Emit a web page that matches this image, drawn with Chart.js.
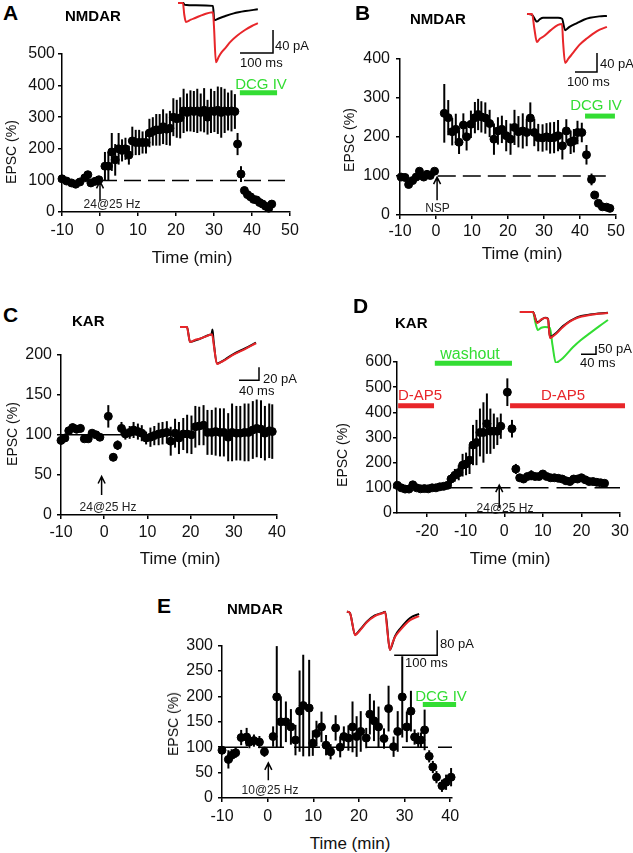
<!DOCTYPE html>
<html>
<head>
<meta charset="utf-8">
<title>EPSC time courses</title>
<script src="https://cdn.jsdelivr.net/npm/chart.js@4.4.1/dist/chart.umd.min.js"></script>
<style>
  body { margin: 0; background: #fff; }
  #fig { position: relative; width: 633px; height: 853px; overflow: hidden; font-family: "Liberation Sans", Arial, sans-serif; color: #111; }
  #fig canvas { position: absolute; }
  .lb { position: absolute; white-space: nowrap; line-height: 1; }
  .c { transform: translate(-50%, -50%); }
  .v { transform: translate(-50%, -50%) rotate(-90deg); }
</style>
</head>
<body>
<div id="fig"></div>
<script>
// ---- A: NMDAR, 24@25 Hz ----
const tA = [-10,-8.8,-7.5,-6.4,-5.3,-4.0,-3.2,-2.4,-1.3,-0.3,
  1.3,2.2,3.1,4.0,4.9,5.8,6.7,7.6,8.5,9.4,10.3,11.2,12.1,13.0,13.9,14.8,15.7,16.6,17.5,18.4,
  19.3,20.2,21.1,22.0,22.9,23.8,24.7,25.6,26.5,27.4,28.3,29.2,30.1,31.0,31.9,32.8,33.7,34.6,35.5,
  36.2,37.1,38.0,38.8,39.6,40.4,41.2,42.0,42.8,43.6,44.4,45.2];
const yA = [105,98,92,88,95,108,118,92,97,102,
  145,145,190,165,200,195,200,180,225,220,220,220,220,250,255,260,260,270,262,265,
  300,295,298,320,315,320,318,320,315,322,300,320,318,322,315,320,318,320,318,
  215,120,68,55,48,40,38,30,25,18,12,25];
const eA = [5,5,5,5,5,6,8,6,5,5,
  45,45,60,50,50,35,35,30,45,40,40,35,35,45,45,50,50,55,50,55,
  60,60,65,70,60,65,65,70,60,70,55,70,65,75,80,70,60,65,55,
  35,25,12,10,10,10,8,8,8,6,6,8];

// ---- B: NMDAR, NSP ----
const tB = [-9.7,-8.6,-7.6,-6.5,-5.5,-4.6,-3.4,-2.5,-1.6,-0.4,
  2.3,3.4,4.5,5.5,6.4,7.6,8.5,9.7,10.8,11.7,12.6,13.7,14.9,16.1,17.2,18.3,19.5,20.7,21.8,22.9,
  24.1,25.2,26.2,27.3,28.4,29.6,30.7,31.7,32.8,33.9,35.1,36.2,37.4,38.3,39.3,40.5,
  41.8,43.2,44.1,45.1,46.2,47.4,48.3];
const yB = [97,96,78,88,97,112,97,104,101,112,
  260,249,213,219,186,230,200,232,249,257,251,248,234,194,215,219,203,194,224,213,
  215,211,248,211,198,197,200,197,198,203,177,215,186,190,211,211,
  154,91,51,30,21,20,17];
const eB = [5,5,6,5,5,6,5,5,5,6,
  75,45,35,40,30,30,35,35,40,40,40,40,35,40,35,35,40,40,45,40,
  45,35,40,35,35,35,35,40,40,40,35,30,30,30,30,25,
  25,15,6,5,4,4,4];

// ---- C: KAR, 24@25 Hz ----
const tC = [-10,-9.1,-8.2,-7.3,-6.4,-5.5,-4.6,-3.7,-2.8,-1.9,-1.0,
  0.95,2.1,3.1,4.0,4.9,5.9,6.8,7.8,8.7,9.7,10.7,11.6,12.6,13.5,14.5,15.4,16.4,17.3,18.3,19.2,
  20.2,21.1,22.0,23.0,23.9,24.9,25.8,26.8,27.7,28.7,29.6,30.6,31.5,32.5,33.4,34.4,35.3,36.3,37.2,38.2,38.9];
const yC = [93,96,105,109,107,108,95,95,102,100,97,
  123,72,87,108,101,103,106,104,102,96,97,99,101,102,103,92,102,96,101,101,
  100,110,111,112,103,103,104,103,103,97,103,102,102,103,103,106,108,107,102,105,104];
const eC = [5,5,5,5,5,5,4,4,4,4,4,
  14,5,6,8,7,8,10,10,10,8,12,12,14,14,14,18,18,20,20,24,
  24,26,24,25,28,28,30,30,30,30,36,34,34,36,36,36,36,36,34,34,34];

// ---- D: KAR, D-AP5 washout ----
const tD = [-27.7,-26.7,-25.7,-24.7,-23.7,-22.7,-21.7,-20.7,-19.7,-18.7,-17.7,-16.7,-15.7,-14.7,
  -13.8,-12.8,-11.8,-10.8,-9.9,-9.0,-8.1,-7.2,-6.3,-5.4,-4.5,-3.6,-2.7,-1.8,-0.9,
  0.8,2.0,3.0,4,5,6,7,8,9,10,11,12,13,14,15,16,17,18,19,20,21,22,23,24,25,26];
const yD = [110,100,95,95,112,100,96,97,96,100,100,104,106,110,
  135,150,160,190,195,210,270,280,320,320,355,325,325,325,345,
  480,335,175,140,135,145,150,145,145,155,145,140,140,138,135,128,125,135,135,140,132,125,125,122,120,118];
const eD = [6,5,5,5,6,5,5,5,5,5,5,6,8,12,
  20,25,30,45,45,55,80,90,95,120,120,90,70,55,50,
  55,35,20,15,10,10,20,10,10,8,8,8,8,8,8,8,8,8,8,8,8,8,8,8,8,8];

// ---- E: NMDAR, 10@25 Hz ----
const tE = [-10,-8.6,-7.9,-7.0,-5.8,-4.6,-4.0,-3.0,-1.8,-0.7,
  1.2,2.0,2.9,4.0,5.1,6.1,7.0,7.8,9.1,9.9,10.7,11.8,12.8,13.8,14.9,15.9,16.7,17.7,18.6,19.5,
  20.4,21.6,22.4,23.3,24.3,25.5,26.5,27.6,28.5,29.5,30.5,31.4,32.2,33.0,33.6,34.4,35.4,36.2,37.0,38.2,39.1,40.2];
const yE = [94,76,84,89,119,120,110,113,110,91,
  121,199,150,150,140,114,171,182,177,108,127,140,104,91,138,100,121,118,140,121,
  131,118,165,152,140,117,176,101,131,199,140,171,120,114,114,134,82,61,41,24,31,41];
const eE = [8,18,12,10,15,18,12,12,12,10,
  20,100,50,40,35,30,80,100,95,25,25,30,20,15,25,20,20,25,50,40,
  40,20,40,40,40,20,45,20,40,80,30,40,15,15,15,40,12,12,12,12,15,18];

// drug applications [start, end, level] and 100 % reference lines [start, end]
const dcgA = [36.8, 46.6, 377], dcgB = [41.4, 49.7, 253], dcgE = [34, 41.3, 184];
const washD = [-18, 2, 595], ap5D1 = [-27.5, -18.2, 426], ap5D2 = [1.5, 31.3, 426];
const refA = [0, 50], refB = [0.5, 48.5], refC = [-10, 10], refD = [-16, 30], refE = [-10, 40.4];

// example traces (ms, pA)
const aRedMs = [6,21,25,30,45,58,75,88,112,115,121,130,139,150,164,185,209,230,248];
const aRedPa = [0,0,-20,-33,-29,-26,-22,-19,-16,-40,-103,-93,-85,-78,-68,-57,-47,-40,-35];
const aBlkMs = [6,22,26,60,112,116,125,148,175,210,248];
const aBlkPa = [0,0,-3,-4,-5,-30,-28,-23,-18,-14,-11];
const bRedMs = [32,55,65,77,90,105,140,173,191,196,205,220,241,270,305,350,395];
const bRedPa = [0,0,-30,-59,-52,-48,-34,-23,-21,-60,-103,-94,-82,-65,-51,-36,-27];
const bBlkMs = [32,55,77,90,105,140,173,191,205,225,259,290,318,360,395];
const bBlkPa = [0,-2,-16,-11,-8,-8,-8,-10,-34,-27,-19,-12,-8,-5,-4];
const cRedMs = [10,24,27,30,40,50,60,70,74,78,84,92,100,116,140,162];
const cRedPa = [0,0,-12,-23,-20,-18,-15,-12,-11,-30,-57,-54,-51,-43,-34,-25];
const cBlkMs = [10,24,30,50,70,73,75,77,84,100,116,140,162];
const cBlkPa = [0,0,-23,-18,-12,-11,-4,-20,-56,-50,-42,-33,-24];
const dRedMs = [13,48,59,70,80,88,93,100,109,128,145,165,200,248];
const dRedPa = [0,0,-66,-45,-36,-42,-157,-148,-133,-90,-60,-36,-18,-6];
const dBlkMs = [13,48,59,80,88,93,109,128,165,200,248];
const dBlkPa = [0,0,-62,-34,-40,-150,-128,-84,-32,-15,-4];
const dGrnMs = [13,48,54,61,70,80,93,100,109,118,128,155,175,200,225,248];
const dGrnPa = [0,0,-60,-108,-95,-90,-96,-200,-307,-295,-277,-211,-170,-127,-85,-48];
const eRedMs = [16,23,29,35,41,47,63,81,100,105,110,116,122,128,140,163,184];
const eRedPa = [0,-4,-40,-75,-68,-59,-33,-14,-4,-1,-60,-122,-100,-81,-59,-27,-14];
const eBlkMs = [16,23,35,47,63,81,100,105,116,128,140,163,184];
const eBlkPa = [0,-4,-73,-57,-31,-12,-3,0,-122,-78,-54,-20,-7];
// scale bars: [end ms, bottom pA, ms length, pA height]
const sbA = [294, -87, 100, 40], sbB = [350, -122, 100, 40], sbC = [168, -82, 40, 20];
const sbD = [216, -255, 40, 50], sbE = [226, -139, 100, 80];

const GREEN = '#33dd33', RED = '#e8262a';
const FONT = '"Liberation Sans", Arial, sans-serif';
const fig = document.getElementById('fig');
const zip = (t, v) => t.map((x, i) => ({x, y: v[i]}));

function addCanvas(l, t, w, h) {
  const cv = document.createElement('canvas');
  cv.width = w; cv.height = h;
  cv.style.left = l + 'px'; cv.style.top = t + 'px';
  fig.appendChild(cv);
  return cv;
}

// vertical SEM bars under the points
const errorBars = {
  id: 'errorBars',
  beforeDatasetsDraw(chart) {
    const {ctx, scales: {x, y}} = chart;
    chart.data.datasets.forEach(ds => {
      if (!ds.err) return;
      ctx.save();
      ctx.strokeStyle = '#000';
      ctx.lineWidth = 2;
      ds.data.forEach((p, i) => {
        const px = x.getPixelForValue(p.x);
        ctx.beginPath();
        ctx.moveTo(px, y.getPixelForValue(p.y - ds.err[i]));
        ctx.lineTo(px, y.getPixelForValue(p.y + ds.err[i]));
        ctx.stroke();
      });
      ctx.restore();
    });
  }
};

// stimulus arrow
const arrowMark = {
  id: 'arrowMark',
  afterDatasetsDraw(chart, args, o) {
    if (o.x === undefined) return;
    const {ctx, scales: {x, y}} = chart;
    const px = x.getPixelForValue(o.x);
    const y0 = y.getPixelForValue(o.from), y1 = y.getPixelForValue(o.to);
    ctx.save();
    ctx.strokeStyle = '#000';
    ctx.lineWidth = 1.5;
    ctx.beginPath();
    ctx.moveTo(px, y0); ctx.lineTo(px, y1);
    ctx.moveTo(px - 3.5, y1 + 7); ctx.lineTo(px, y1); ctx.lineTo(px + 3.5, y1 + 7);
    ctx.stroke();
    ctx.restore();
  }
};

function hline(r, dash) {
  return {data: [{x: r[0], y: 100}, {x: r[1], y: 100}], showLine: true, pointRadius: 0,
    borderColor: '#000', borderWidth: 1.5, borderDash: dash, clip: false};
}
function drug(b, color) {
  return {data: [{x: b[0], y: b[2]}, {x: b[1], y: b[2]}], showLine: true, pointRadius: 0,
    borderColor: color, borderWidth: 5, clip: false};
}
function points(t, y, e) {
  return {data: zip(t, y), err: e, pointRadius: 4, pointBorderWidth: 1,
    pointBackgroundColor: '#000', pointBorderColor: '#000', clip: false};
}

// a: chart area [left, top, right, bottom] in page pixels
function panel(a, xr, yr, sets, arrow) {
  const cl = a[0] - 60, ct = a[1] - 14;
  const cv = addCanvas(cl, ct, a[2] - cl + 22, a[3] - ct + 34);
  const tickFont = {family: FONT, size: 16};
  const grid = {display: true, drawOnChartArea: false, drawTicks: true, tickLength: 4, color: '#000', lineWidth: 1.5};
  const border = {display: true, color: '#000', width: 1.5};
  new Chart(cv, {
    type: 'scatter',
    data: {datasets: sets},
    options: {
      responsive: false, animation: false, events: [],
      layout: {padding: {left: 0, top: 14, right: 22, bottom: 0}},
      plugins: {legend: {display: false}, tooltip: {enabled: false}, arrowMark: arrow},
      scales: {
        x: {type: 'linear', min: xr.min, max: xr.max, grid, border,
          afterFit: s => { s.height = 34; },
          ticks: {stepSize: 10, includeBounds: false, autoSkip: false, maxRotation: 0,
            padding: xr.pad, color: '#111', font: tickFont}},
        y: {type: 'linear', min: 0, max: yr.max, grid, border,
          afterFit: s => { s.width = 60; },
          ticks: {stepSize: yr.step, padding: yr.pad, color: '#111', font: tickFont}}
      }
    },
    plugins: [errorBars, arrowMark]
  });
}

// box: [left, top, width, height, px per ms, px per pA, baseline px from top]
function inset(box, traces, sb) {
  const [l, t, w, h, pxMs, pxPa, base] = box;
  const cv = addCanvas(l, t, w, h);
  const sets = traces.map(tr => ({data: zip(tr[0], tr[1]), showLine: true, pointRadius: 0,
    borderColor: tr[2], borderWidth: 2, cubicInterpolationMode: 'monotone', clip: false}));
  sets.push({data: [{x: sb[0] - sb[2], y: sb[1]}, {x: sb[0], y: sb[1]}, {x: sb[0], y: sb[1] + sb[3]}],
    showLine: true, pointRadius: 0, borderColor: '#000', borderWidth: 1.5, clip: false});
  new Chart(cv, {
    type: 'scatter',
    data: {datasets: sets},
    options: {
      responsive: false, animation: false, events: [],
      layout: {padding: 0},
      plugins: {legend: {display: false}, tooltip: {enabled: false}},
      scales: {
        x: {type: 'linear', display: false, min: 0, max: w / pxMs},
        y: {type: 'linear', display: false, min: -(h - base) / pxPa, max: base / pxPa}
      }
    }
  });
}

panel([62, 54, 290, 212], {min: -10, max: 50, pad: 5.4}, {max: 500, step: 100, pad: 3},
  [points(tA, yA, eA), hline(refA, [17, 7]), drug(dcgA, GREEN)], {x: 0, from: 35, to: 97});
panel([400, 57, 616, 215], {min: -10, max: 50, pad: 3.4}, {max: 400, step: 100, pad: 6},
  [points(tB, yB, eB), hline(refB, [18, 7]), drug(dcgB, GREEN)], {x: 0.3, from: 38, to: 97});
panel([61, 354, 277, 515], {min: -10, max: 40, pad: 4.4}, {max: 200, step: 50, pad: 5},
  [points(tC, yC, eC), hline(refC, [])], {x: -0.6, from: 25, to: 48});
panel([397, 362, 620, 513], {min: -27.8, max: 30, pad: 5.4}, {max: 600, step: 100, pad: 1},
  [points(tD, yD, eD), hline(refD, [30, 8]), drug(washD, GREEN), drug(ap5D1, RED), drug(ap5D2, RED)],
  {x: -1.3, from: 20, to: 111});
panel([222, 645, 452, 798], {min: -10, max: 40.4, pad: 5.4}, {max: 300, step: 50, pad: 5},
  [points(tE, yE, eE), hline(refE, [26, 10]), drug(dcgE, GREEN)], {x: 0.15, from: 35, to: 69});

inset([176, 0, 110, 68, 0.33, 0.575, 3], [[aRedMs, aRedPa, RED], [aBlkMs, aBlkPa, '#000']], sbA);
inset([520, 5, 100, 75, 0.22, 0.475, 9], [[bRedMs, bRedPa, RED], [bBlkMs, bBlkPa, '#000']], sbB);
inset([175, 318, 95, 70, 0.5, 0.65, 9], [[cRedMs, cRedPa, RED], [cBlkMs, cBlkPa, '#000']], sbC);
inset([515, 303, 105, 60, 0.375, 0.166, 9], [[dRedMs, dRedPa, RED], [dBlkMs, dBlkPa, '#000'], [dGrnMs, dGrnPa, GREEN]], sbD);
inset([340, 603, 105, 57, 0.43, 0.3125, 8.7], [[eRedMs, eRedPa, RED], [eBlkMs, eBlkPa, '#000']], sbE);

// [text, x, y, size, colour, bold, mode]  mode: l = top-left, c = centred, v = vertical
const texts = [
  ['A', 3, 2, 21, '#000', 1, 'l'], ['NMDAR', 65, 8, 15, '#000', 1, 'l'],
  ['B', 355, 2, 21, '#000', 1, 'l'], ['NMDAR', 410, 11, 15, '#000', 1, 'l'],
  ['C', 3, 304, 21, '#000', 1, 'l'], ['KAR', 72, 313, 15, '#000', 1, 'l'],
  ['D', 353, 295, 21, '#000', 1, 'l'], ['KAR', 395, 315, 15, '#000', 1, 'l'],
  ['E', 157, 595, 21, '#000', 1, 'l'], ['NMDAR', 227, 601, 15, '#000', 1, 'l'],
  ['EPSC (%)', 11, 152, 14, '#111', 0, 'v'], ['EPSC (%)', 349, 140, 14, '#111', 0, 'v'],
  ['EPSC (%)', 12, 434, 14, '#111', 0, 'v'], ['EPSC (%)', 342, 455, 14, '#111', 0, 'v'],
  ['EPSC (%)', 173, 724, 14, '#111', 0, 'v'],
  ['Time (min)', 192, 257, 17, '#111', 0, 'c'], ['Time (min)', 522, 253, 17, '#111', 0, 'c'],
  ['Time (min)', 180, 558, 17, '#111', 0, 'c'], ['Time (min)', 510, 558, 17, '#111', 0, 'c'],
  ['Time (min)', 350, 843, 17, '#111', 0, 'c'],
  ['DCG IV', 261, 83, 15, GREEN, 0, 'c'], ['DCG IV', 596, 103.5, 15, GREEN, 0, 'c'],
  ['DCG IV', 441, 695, 15, GREEN, 0, 'c'], ['washout', 470, 354, 16, GREEN, 0, 'c'],
  ['D-AP5', 420, 394, 15, RED, 0, 'c'], ['D-AP5', 563, 394, 15, RED, 0, 'c'],
  ['24@25 Hz', 112, 204, 12, '#222', 0, 'c'], ['NSP', 437.5, 208, 12, '#222', 0, 'c'],
  ['24@25 Hz', 108, 507, 12, '#222', 0, 'c'], ['24@25 Hz', 505, 508, 12, '#222', 0, 'c'],
  ['10@25 Hz', 270, 790, 12, '#222', 0, 'c'],
  [sbA[3] + ' pA', 275, 38.5, 13, '#111', 0, 'l'], [sbA[2] + ' ms', 240, 55.5, 13, '#111', 0, 'l'],
  [sbB[3] + ' pA', 600, 56.5, 13, '#111', 0, 'l'], [sbB[2] + ' ms', 567, 74.5, 13, '#111', 0, 'l'],
  [sbC[3] + ' pA', 263, 371.5, 13, '#111', 0, 'l'], [sbC[2] + ' ms', 239, 383.5, 13, '#111', 0, 'l'],
  [sbD[3] + ' pA', 598, 341.5, 13, '#111', 0, 'l'], [sbD[2] + ' ms', 580, 355.5, 13, '#111', 0, 'l'],
  [sbE[3] + ' pA', 440, 636.5, 13, '#111', 0, 'l'], [sbE[2] + ' ms', 405, 655.5, 13, '#111', 0, 'l']
];
texts.forEach(([s, x, y, size, color, bold, mode]) => {
  const d = document.createElement('div');
  d.className = 'lb' + (mode === 'l' ? '' : ' ' + mode);
  d.textContent = s;
  d.style.left = x + 'px'; d.style.top = y + 'px';
  d.style.fontSize = size + 'px'; d.style.color = color;
  d.style.fontWeight = bold ? 'bold' : 'normal';
  fig.appendChild(d);
});
</script>
</body>
</html>
